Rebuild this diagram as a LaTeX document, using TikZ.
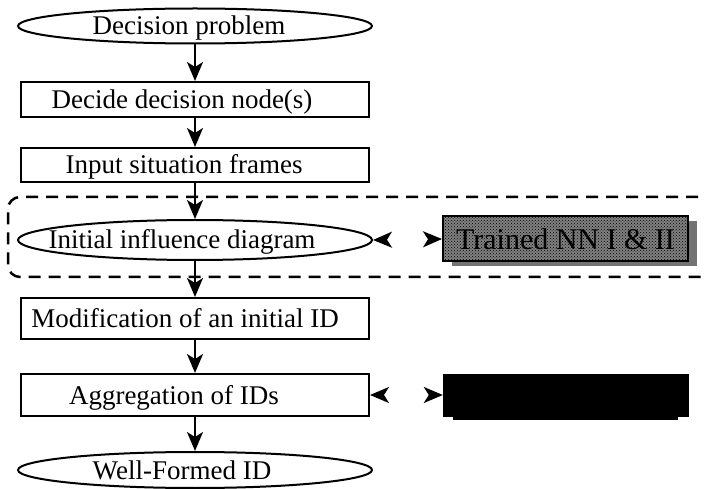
\documentclass[tikz,border=0pt]{standalone}
\usepackage{fontspec}
\setmainfont{Liberation Serif}
\usetikzlibrary{shapes.geometric,arrows.meta,patterns,shadows}

\begin{document}
\begin{tikzpicture}[x=1pt,y=-1pt,
  font=\fontsize{27}{32}\selectfont,
  txt/.style={inner sep=0pt, text height=18pt, text depth=0pt},
  box/.style={draw, line width=2pt, rectangle, minimum width=348pt, inner sep=0pt},
  oval/.style={draw, line width=2pt, ellipse, minimum width=354pt, inner sep=0pt},
  flow/.style={line width=2pt, -{Stealth[length=19pt, width=16pt, inset=5pt]}},
  pair/.style={white, line width=2pt,
    {Stealth[length=19pt, width=16pt, inset=5pt, color=black]}-{Stealth[length=19pt, width=16pt, inset=5pt, color=black]}}]
\useasboundingbox (0,0) rectangle (705,489);
\clip (0,0) rectangle (705,489);

\node[draw, line width=2.5pt, dash pattern=on 12pt off 8pt, rounded corners=12pt,
  minimum width=722pt, minimum height=80pt] (grp) at (369,237) {};

\node[oval, minimum height=35pt, label={[txt, xshift=-6pt]center:Decision problem}] (dp) at (195,26) {};
\node[box, minimum height=35pt, label={[txt, xshift=-13pt]center:Decide decision node(s)}] (dd) at (195,99.5) {};
\node[box, minimum height=34pt, label={[txt, xshift=-11pt]center:Input situation frames}] (isf) at (195,165) {};
\node[oval, minimum height=40pt, label={[txt, xshift=-13pt]center:Initial influence diagram}] (iid) at (195,240) {};
\node[box, minimum height=41pt, label={[txt, xshift=-10pt]center:Modification of an initial ID}] (mod) at (195,318.5) {};
\node[box, minimum height=42pt, label={[txt, xshift=-21pt]center:Aggregation of IDs}] (agg) at (195,395) {};
\node[oval, minimum height=36pt, label={[txt, xshift=-13pt]center:Well-Formed ID}] (wf) at (195,470) {};

\node[draw, line width=2pt, minimum width=245pt, minimum height=45pt, inner sep=0pt,
  general shadow={shadow xshift=9pt, shadow yshift=-5pt, fill=black!55},
  preaction={fill=black!50}, pattern=crosshatch dots,
  font=\fontsize{30}{34}\selectfont] (nn) at (565.5,239) {Trained NN I \& II};
\node[draw, fill=black, minimum width=245pt, minimum height=42pt, inner sep=0pt,
  general shadow={shadow yshift=-6pt, shadow scale=0.92, fill=black}] (blk) at (565.5,395) {};

\draw[flow] (dp) -- (dd);
\draw[flow] (dd) -- (isf);
\draw[flow] (isf) -- (iid);
\draw[flow] (iid) -- (mod);
\draw[flow] (mod) -- (agg);
\draw[flow] (agg) -- (wf);
\draw[pair] (iid.east) -- (nn.west);
\draw[pair] (agg.east) -- (blk.west);
\end{tikzpicture}
\end{document}
